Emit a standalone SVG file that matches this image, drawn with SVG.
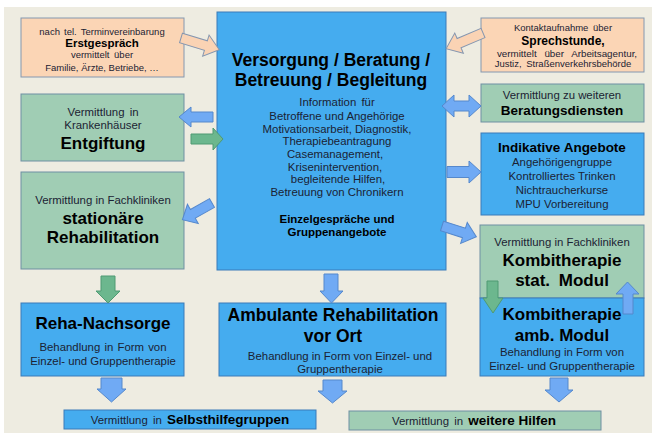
<svg xmlns="http://www.w3.org/2000/svg" width="652" height="433" viewBox="0 0 652 433">
<style>
text{font-family:"Liberation Sans",Arial,sans-serif;text-anchor:middle;fill:#1b2233}
.b{font-weight:bold;fill:#000}
.peach{fill:#FBD5B5;stroke:#8497B0;stroke-width:1}
.green{fill:#A0CDB4;stroke:#6E8FA3;stroke-width:1}
.blue{fill:#45ACEF;stroke:#3B7BB9;stroke-width:1}
.ab{fill:#70AAF4;stroke:#5588CC;stroke-width:1}
.ag{fill:#6CB78E;stroke:#4F9A72;stroke-width:1}
.ap{fill:#FAD3B4;stroke:#8496B0;stroke-width:1}
.s{font-size:9.5px}
.m{font-size:11.4px}
.t{font-size:17px}
</style>
<rect x="0" y="0" width="652" height="433" fill="#ffffff"/>
<rect x="4" y="7" width="648" height="426" fill="#EEECE1"/>

<g id="erstgespraech">
<rect class="peach" x="21" y="18" width="163" height="59"/>
<text class="s" x="102" y="35" word-spacing="1.5">nach tel. Terminvereinbarung</text>
<text class="b" x="102" y="47.3" font-size="11.5">Erstgespräch</text>
<text class="s" x="102" y="58.3" word-spacing="2">vermittelt über</text>
<text class="s" x="102" y="71.3">Familie, Ärzte, Betriebe, …</text>
</g>

<g id="sprechstunde">
<rect class="peach" x="481" y="18" width="163" height="54"/>
<text class="s" x="563" y="30.5" word-spacing="2">Kontaktaufnahme über</text>
<text class="b" x="563" y="45" font-size="12">Sprechstunde,</text>
<text x="567" y="56.5" font-size="9.8" word-spacing="5">vermittelt über Arbeitsagentur,</text>
<text class="s" x="563" y="67" word-spacing="2">Justiz, Straßenverkehrsbehörde</text>
</g>

<g id="versorgung">
<rect class="blue" x="217" y="12" width="229" height="258"/>
<text class="b" x="331" y="66" font-size="17.5">Versorgung / Beratung /</text>
<text class="b" x="331" y="86" font-size="17.5">Betreuung / Begleitung</text>
<text class="m" x="337" y="106" word-spacing="2">Information für</text>
<text class="m" x="337" y="120">Betroffene und Angehörige</text>
<text class="m" x="337" y="132.5">Motivationsarbeit, Diagnostik,</text>
<text class="m" x="337" y="145">Therapiebeantragung</text>
<text class="m" x="335" y="158">Casemanagement,</text>
<text class="m" x="335" y="170.5">Krisenintervention,</text>
<text class="m" x="338" y="183">begleitende Hilfen,</text>
<text class="m" x="337" y="195.5">Betreuung von Chronikern</text>
<text class="b" x="337" y="223" font-size="11.5">Einzelgespräche und</text>
<text class="b" x="337" y="235.5" font-size="11.5">Gruppenangebote</text>
</g>

<g id="entgiftung">
<rect class="green" x="21" y="94" width="163" height="67"/>
<text class="m" x="103" y="116" word-spacing="2">Vermittlung in</text>
<text class="m" x="103" y="129">Krankenhäuser</text>
<text class="b t" x="103" y="149">Entgiftung</text>
</g>

<g id="stationaer">
<rect class="green" x="21" y="172" width="163" height="97"/>
<text class="m" x="103" y="204">Vermittlung in Fachkliniken</text>
<text class="b t" x="103" y="224">stationäre</text>
<text class="b t" x="103" y="243">Rehabilitation</text>
</g>

<g id="beratungsdienste">
<rect class="green" x="481" y="84" width="163" height="38"/>
<text class="m" x="562" y="99">Vermittlung zu weiteren</text>
<text class="b" x="562" y="114.5" font-size="13.5">Beratungsdiensten</text>
</g>

<g id="indikative">
<rect class="blue" x="481" y="133" width="163" height="82"/>
<text class="b" x="562" y="151.5" font-size="13.5">Indikative Angebote</text>
<text class="m" x="562" y="166">Angehörigengruppe</text>
<text class="m" x="562" y="180">Kontrolliertes Trinken</text>
<text class="m" x="562" y="193.5">Nichtraucherkurse</text>
<text class="m" x="562" y="208">MPU Vorbereitung</text>
</g>

<g id="kombi-stat">
<rect class="green" x="480" y="225" width="164" height="73"/>
<text class="m" x="562" y="246">Vermittlung in Fachkliniken</text>
<text class="b t" x="562" y="266">Kombitherapie</text>
<text class="b t" x="562" y="286" word-spacing="4">stat. Modul</text>
</g>

<g id="kombi-amb">
<rect class="blue" x="480" y="298" width="164" height="78"/>
<text class="b t" x="562" y="320">Kombitherapie</text>
<text class="b t" x="562" y="341">amb. Modul</text>
<text class="m" x="562" y="356">Behandlung in Form von</text>
<text class="m" x="562" y="370">Einzel- und Gruppentherapie</text>
</g>

<g id="nachsorge">
<rect class="blue" x="21" y="303" width="163" height="73"/>
<text class="b t" x="103" y="329">Reha-Nachsorge</text>
<text class="m" x="103" y="351" word-spacing="1">Behandlung in Form von</text>
<text class="m" x="103" y="364.5">Einzel- und Gruppentherapie</text>
</g>

<g id="ambulant">
<rect class="blue" x="219" y="303" width="227" height="73"/>
<text class="b" x="333" y="321" font-size="17.5">Ambulante Rehabilitation</text>
<text class="b" x="333" y="342" font-size="17.5">vor Ort</text>
<text class="m" x="340" y="360">Behandlung in Form von Einzel- und</text>
<text class="m" x="340" y="373">Gruppentherapie</text>
</g>

<g id="selbsthilfe">
<rect class="blue" x="64" y="410" width="252" height="19"/>
<text x="190" y="423.5"><tspan font-size="11.4" word-spacing="2">Vermittlung in </tspan><tspan class="b" font-size="13.5">Selbsthilfegruppen</tspan></text>
</g>

<g id="weitere-hilfen">
<rect class="green" x="349" y="411" width="252" height="19"/>
<text x="474" y="424.5"><tspan font-size="11.4" word-spacing="2">Vermittlung in </tspan><tspan class="b" font-size="13.5">weitere Hilfen</tspan></text>
</g>

<g id="connectors">
<polygon class="ap" transform="translate(181,38) rotate(17)" points="0,-5 26,-5 26,-11 40,0 26,11 26,5 0,5"/>
<polygon class="ap" transform="translate(483,33) rotate(157)" points="0,-5 26,-5 26,-11 40,0 26,11 26,5 0,5"/>
<polygon class="ab" points="442,106 454,95 454,101 469,101 469,95 481,106 469,117 469,111 454,111 454,117"/>
<polygon class="ab" points="447,166.5 469,166.5 469,161 481,172 469,183 469,177.5 447,177.5"/>
<polygon class="ab" transform="translate(442,226) rotate(17.4)" points="0,-5 23,-5 23,-11 36,0 23,11 23,5 0,5"/>
<polygon class="ab" points="213,112 191,112 191,107 179,117 191,127 191,122 213,122"/>
<polygon class="ag" points="191,134 213,134 213,128 223,139 213,150 213,144 191,144"/>
<polygon class="ab" transform="translate(212,203) rotate(150.5)" points="0,-5 22,-5 22,-11 34,0 22,11 22,5 0,5"/>
<polygon class="ag" points="101,276 115,276 115,291 120,291 108,303 96,291 101,291"/>
<polygon class="ab" points="324,274 338,274 338,291 343,291 331.5,303 320,291 324,291"/>
<polygon class="ab" points="101,378 122,378 122,389 126,389 111.5,402 97,389 101,389"/>
<polygon class="ab" points="323,380 342,380 342,391 347,391 332.5,403 318,391 323,391"/>
<polygon class="ab" points="550,378 568,378 568,390 573,390 559,402 545,390 550,390"/>
<polygon class="ag" points="487,281 498,281 498,298 503,298 493,313 483,298 487,298"/>
<polygon class="ab" points="623,314 633,314 633,294 639,294 627.5,282 616,294 623,294"/>
</g>
</svg>
